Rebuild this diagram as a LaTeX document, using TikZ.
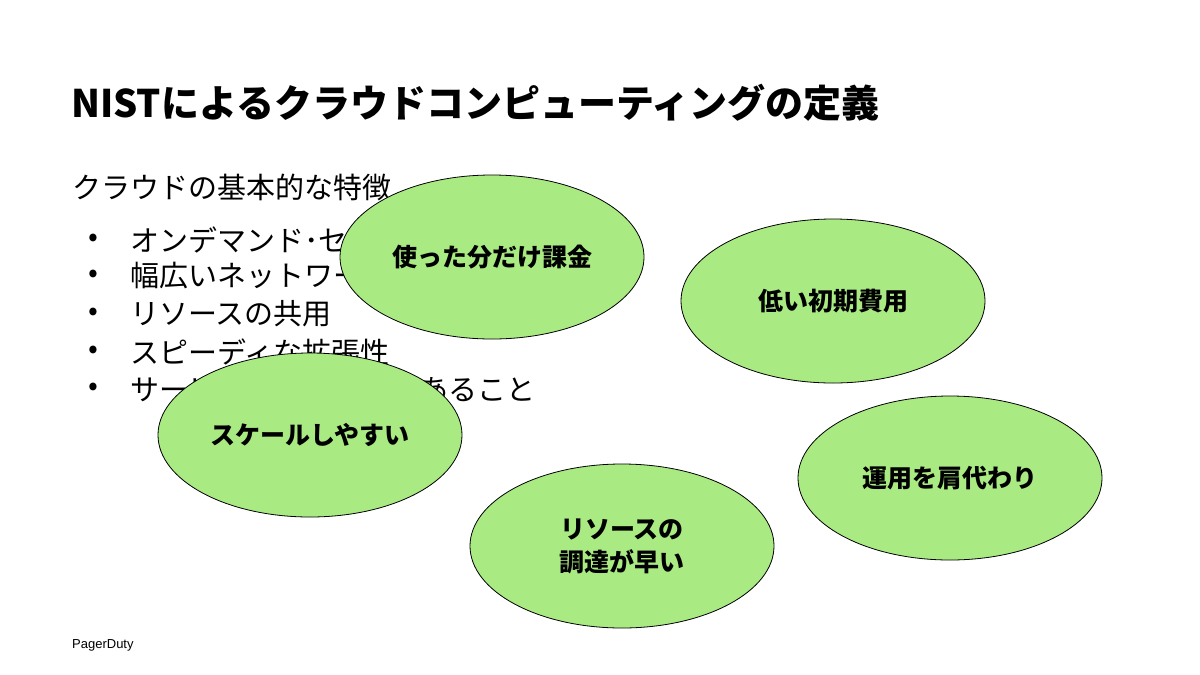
\documentclass[tikz,border=0pt]{standalone}
\usepackage{fontspec}
\newfontfamily\jpfont{Noto Sans CJK JP}
\setmainfont{Liberation Sans}
\usetikzlibrary{shapes.geometric}

\definecolor{bubblegreen}{HTML}{A9EB82}

\tikzset{
    bubble/.style={ellipse, draw=black, line width=0.8pt, fill=bubblegreen,
        minimum width=304pt, minimum height=164pt, inner sep=0pt,
        align=center, font=\jpfont\bfseries\fontsize{25}{33}\selectfont},
    item/.style={anchor=west, inner sep=0pt, font=\jpfont\fontsize{29}{34}\selectfont},
}

\begin{document}
\begin{tikzpicture}[x=1pt,y=-1pt]
    \useasboundingbox (0,0) rectangle (1200,675);

    \node[anchor=west, inner sep=0pt, font=\jpfont\bfseries\fontsize{38}{42}\selectfont] (title) at (71,103) {NISTによるクラウドコンピューティングの定義};

    % list of features
    \node[item] (head) at (72,187) {クラウドの基本的な特徴};
    \foreach \y/\txt [count=\i] in {240/オンデマンド･セルフサービス, 276/幅広いネットワークアクセス,
            314/リソースの共用, 352/スピーディな拡張性, 389/サービスが計測可能であること} {
            \node[item] (dot\i) at (88,\y) {•};
            \node[item] (feat\i) at (130,\y) {\txt};
        }

    % benefits
    \node[bubble] (pay) at (492,257) {使った分だけ課金};
    \node[bubble] (cost) at (833,301) {低い初期費用};
    \node[bubble] (scale) at (310,435) {スケールしやすい};
    \node[bubble] (ops) at (950,478) {運用を肩代わり};
    \node[bubble] (fast) at (622,546) {リソースの\\調達が早い};

    \node[anchor=west, inner sep=0pt, font=\fontsize{13}{15}\selectfont] (logo) at (72,645) {PagerDuty};
\end{tikzpicture}
\end{document}
